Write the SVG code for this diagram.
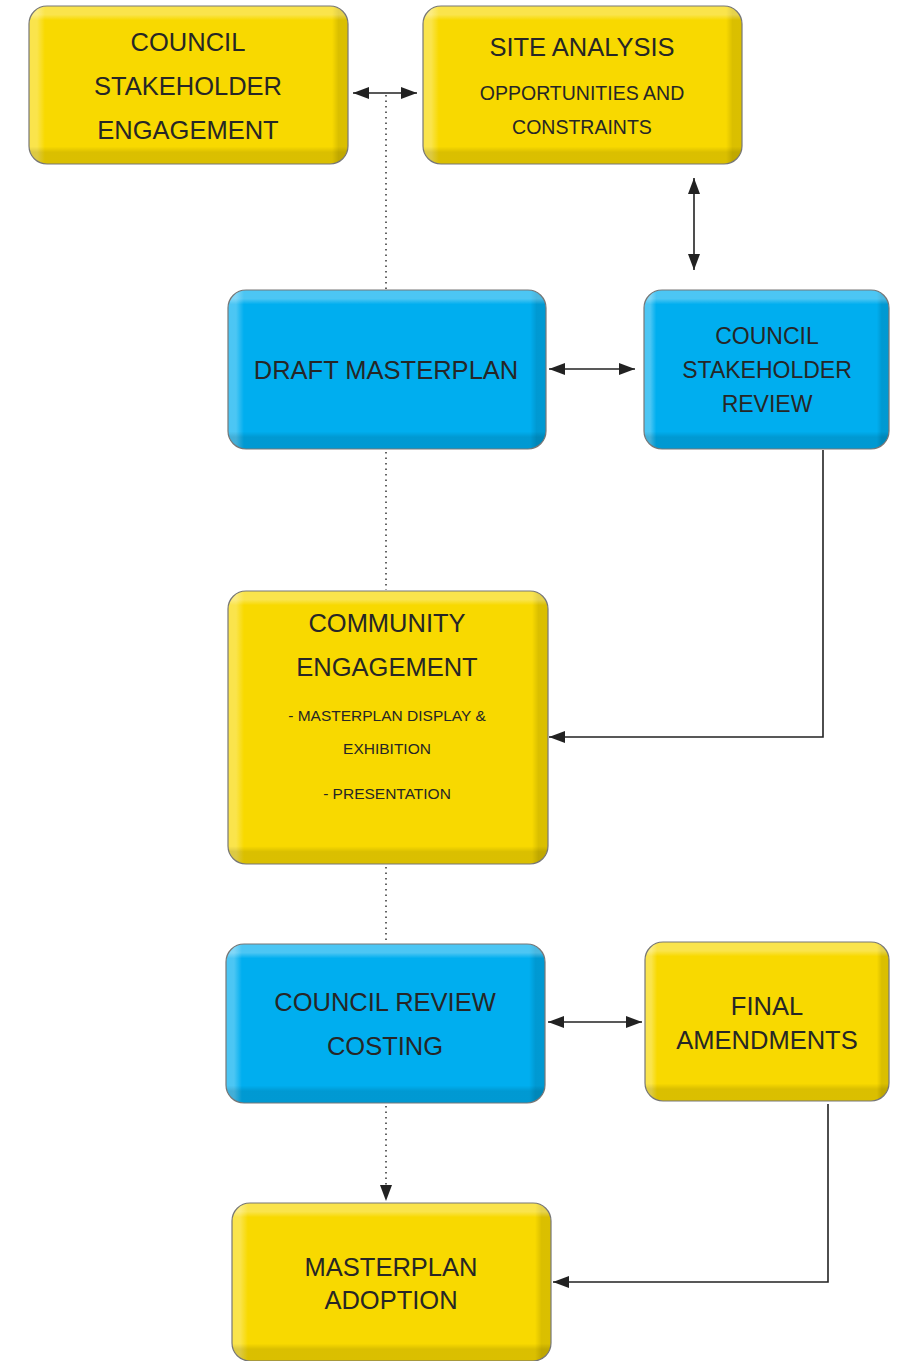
<svg xmlns="http://www.w3.org/2000/svg" width="906" height="1361" viewBox="0 0 906 1361">
<style>
.t{font-family:"Liberation Sans",Arial,sans-serif;fill:#262626;text-anchor:middle}
.big{font-size:25.5px}
.mid{font-size:23px}
.sm{font-size:19.5px}
.xs{font-size:15.5px}
.edge{fill:none;stroke:#777;stroke-width:1.2}
.yb{fill:#F8D900}
.bb{fill:#00AEEF}
.hz{fill:url(#gh)}
.vt{fill:url(#gv)}
.vtt{fill:url(#gvt)}
.c{fill:none;stroke:#222;stroke-width:1.6}
.d{fill:none;stroke:#333;stroke-width:1.5;stroke-dasharray:1.5 4}
</style>
<defs>
<linearGradient id="gh" x1="0" y1="0" x2="1" y2="0">
<stop offset="0" stop-color="#fff" stop-opacity="0.3"/>
<stop offset="0.025" stop-color="#fff" stop-opacity="0.3"/>
<stop offset="0.05" stop-color="#fff" stop-opacity="0"/>
<stop offset="0.95" stop-color="#000" stop-opacity="0"/>
<stop offset="0.97" stop-color="#000" stop-opacity="0.12"/>
<stop offset="1" stop-color="#000" stop-opacity="0.12"/>
</linearGradient>
<linearGradient id="gv" x1="0" y1="0" x2="0" y2="1">
<stop offset="0" stop-color="#fff" stop-opacity="0.3"/>
<stop offset="0.055" stop-color="#fff" stop-opacity="0.3"/>
<stop offset="0.09" stop-color="#fff" stop-opacity="0"/>
<stop offset="0.89" stop-color="#000" stop-opacity="0"/>
<stop offset="0.925" stop-color="#000" stop-opacity="0.12"/>
<stop offset="1" stop-color="#000" stop-opacity="0.12"/>
</linearGradient>
<linearGradient id="gvt" x1="0" y1="0" x2="0" y2="1">
<stop offset="0" stop-color="#fff" stop-opacity="0.3"/>
<stop offset="0.032" stop-color="#fff" stop-opacity="0.3"/>
<stop offset="0.052" stop-color="#fff" stop-opacity="0"/>
<stop offset="0.935" stop-color="#000" stop-opacity="0"/>
<stop offset="0.955" stop-color="#000" stop-opacity="0.12"/>
<stop offset="1" stop-color="#000" stop-opacity="0.12"/>
</linearGradient>
<marker id="ah" viewBox="0 0 16 12" refX="16" refY="6" markerWidth="16" markerHeight="12" markerUnits="userSpaceOnUse" orient="auto-start-reverse">
<path d="M0,0 L16,6 L0,12 Z" fill="#222"/>
</marker>
</defs>

<g id="connectors">
<path class="c" d="M353,93 H417" marker-start="url(#ah)" marker-end="url(#ah)"/>
<path class="d" d="M386,95 V290"/>
<path class="c" d="M694,178 V270" marker-start="url(#ah)" marker-end="url(#ah)"/>
<path class="c" d="M549,369 H635" marker-start="url(#ah)" marker-end="url(#ah)"/>
<path class="d" d="M386,452 V590"/>
<path class="c" d="M823,450 V737 H549" marker-end="url(#ah)"/>
<path class="d" d="M386,867 V943"/>
<path class="c" d="M548,1022 H642" marker-start="url(#ah)" marker-end="url(#ah)"/>
<path class="d" d="M386,1106 V1186"/>
<path class="c" d="M386,1186 V1201" stroke-dasharray="0 100" marker-end="url(#ah)"/>
<path class="c" d="M828,1104 V1282 H553" marker-end="url(#ah)"/>
</g>

<g id="n1">
<rect class="yb" x="29" y="6" width="319" height="158" rx="18"/>
<rect class="hz" x="29" y="6" width="319" height="158" rx="18"/>
<rect class="vt" x="29" y="6" width="319" height="158" rx="18"/>
<rect class="edge" x="29" y="6" width="319" height="158" rx="18"/>
<text class="t big" x="188" y="51">COUNCIL</text>
<text class="t big" x="188" y="95">STAKEHOLDER</text>
<text class="t big" x="188" y="139">ENGAGEMENT</text>
</g>

<g id="n2">
<rect class="yb" x="423" y="6" width="319" height="158" rx="18"/>
<rect class="hz" x="423" y="6" width="319" height="158" rx="18"/>
<rect class="vt" x="423" y="6" width="319" height="158" rx="18"/>
<rect class="edge" x="423" y="6" width="319" height="158" rx="18"/>
<text class="t big" x="582" y="56">SITE ANALYSIS</text>
<text class="t sm" x="582" y="100">OPPORTUNITIES AND</text>
<text class="t sm" x="582" y="134">CONSTRAINTS</text>
</g>

<g id="n3">
<rect class="bb" x="228" y="290" width="318" height="159" rx="18"/>
<rect class="hz" x="228" y="290" width="318" height="159" rx="18"/>
<rect class="vt" x="228" y="290" width="318" height="159" rx="18"/>
<rect class="edge" x="228" y="290" width="318" height="159" rx="18"/>
<text class="t big" x="386" y="379">DRAFT MASTERPLAN</text>
</g>

<g id="n4">
<rect class="bb" x="644" y="290" width="245" height="159" rx="18"/>
<rect class="hz" x="644" y="290" width="245" height="159" rx="18"/>
<rect class="vt" x="644" y="290" width="245" height="159" rx="18"/>
<rect class="edge" x="644" y="290" width="245" height="159" rx="18"/>
<text class="t mid" x="767" y="344">COUNCIL</text>
<text class="t mid" x="767" y="378">STAKEHOLDER</text>
<text class="t mid" x="767" y="412">REVIEW</text>
</g>

<g id="n5">
<rect class="yb" x="228" y="591" width="320" height="273" rx="18"/>
<rect class="hz" x="228" y="591" width="320" height="273" rx="18"/>
<rect class="vtt" x="228" y="591" width="320" height="273" rx="18"/>
<rect class="edge" x="228" y="591" width="320" height="273" rx="18"/>
<text class="t big" x="387" y="632">COMMUNITY</text>
<text class="t big" x="387" y="676">ENGAGEMENT</text>
<text class="t xs" x="387" y="721">- MASTERPLAN DISPLAY &amp;</text>
<text class="t xs" x="387" y="754">EXHIBITION</text>
<text class="t xs" x="387" y="799">- PRESENTATION</text>
</g>

<g id="n6">
<rect class="bb" x="226" y="944" width="319" height="159" rx="18"/>
<rect class="hz" x="226" y="944" width="319" height="159" rx="18"/>
<rect class="vt" x="226" y="944" width="319" height="159" rx="18"/>
<rect class="edge" x="226" y="944" width="319" height="159" rx="18"/>
<text class="t big" x="385" y="1011">COUNCIL REVIEW</text>
<text class="t big" x="385" y="1055">COSTING</text>
</g>

<g id="n7">
<rect class="yb" x="645" y="942" width="244" height="159" rx="18"/>
<rect class="hz" x="645" y="942" width="244" height="159" rx="18"/>
<rect class="vt" x="645" y="942" width="244" height="159" rx="18"/>
<rect class="edge" x="645" y="942" width="244" height="159" rx="18"/>
<text class="t big" x="767" y="1015">FINAL</text>
<text class="t big" x="767" y="1049">AMENDMENTS</text>
</g>

<g id="n8">
<rect class="yb" x="232" y="1203" width="319" height="158" rx="18"/>
<rect class="hz" x="232" y="1203" width="319" height="158" rx="18"/>
<rect class="vt" x="232" y="1203" width="319" height="158" rx="18"/>
<rect class="edge" x="232" y="1203" width="319" height="158" rx="18"/>
<text class="t big" x="391" y="1276">MASTERPLAN</text>
<text class="t big" x="391" y="1309">ADOPTION</text>
</g>
</svg>
